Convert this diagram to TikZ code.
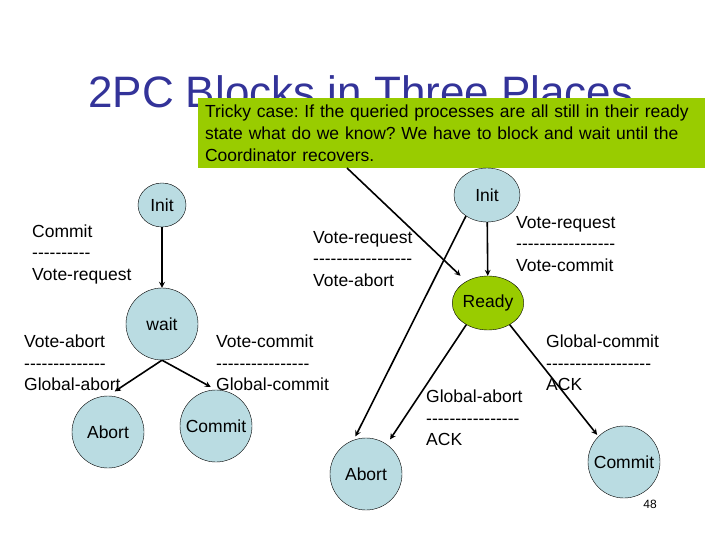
\documentclass[tikz,border=0pt]{standalone}
\usepackage{fontspec}
\setmainfont{Liberation Sans}[Ligatures=TeXOff]
\usetikzlibrary{shapes.geometric, arrows}
\definecolor{titleblue}{HTML}{333399}
\definecolor{statefill}{HTML}{BADCE2}
\definecolor{readygreen}{HTML}{99CC00}
\frenchspacing
\tikzstyle{state} = [circle, draw=black, thin, fill=statefill, minimum size=72pt, inner sep=0pt, font=\fontsize{17.5}{21}\selectfont]
\tikzstyle{oval} = [ellipse, draw=black, thin, fill=statefill, minimum width=66pt, minimum height=54pt, inner sep=0pt, font=\fontsize{17.5}{21}\selectfont]
\tikzstyle{msg} = [anchor=west, align=left, inner sep=0pt, font=\fontsize{17.5}{21.5}\selectfont]
\tikzstyle{callout} = [rectangle, fill=readygreen, minimum width=507pt, minimum height=70pt, text width=493pt, align=left, inner sep=0pt, font=\fontsize{17.5}{22}\selectfont]
\tikzstyle{arrow} = [line width=1.6pt,->,>=stealth]

\begin{document}
\begin{tikzpicture}[x=1pt,y=-1pt]
    \useasboundingbox (0,0) rectangle (720,540);
    \node [anchor=base west, inner sep=0pt, text=titleblue, font=\fontsize{44}{50}\selectfont] at (88,108) (title) {2PC Blocks in Three Places};
    \node [callout] at (451.5,133) (tricky) {Tricky case: If the queried processes are all still in their ready\\state what do we know? We have to block and wait until the\\Coordinator recovers.};
    \coordinate (tail) at (347,168);

    % coordinator
    \node [oval, minimum width=48pt, minimum height=44pt] at (162,205) (initL) {Init};
    \node [state] at (162,324) (wait) {wait};
    \node [state] at (108,432) (abortL) {Abort};
    \node [state] at (216,426) (commitL) {Commit};

    % participant
    \node [oval] at (487,195) (initR) {Init};
    \node [oval, fill=readygreen] at (488,303) (ready) {Ready};
    \node [state] at (366,474) (abortR) {Abort};
    \node [state] at (624,462) (commitR) {Commit};

    \node [msg] at (32,254) (m1) {Commit\\----------\\Vote-request};
    \node [msg] at (313,259) (m2) {Vote-request\\-----------------\\Vote-abort};
    \node [msg] at (516,244) (m3) {Vote-request\\-----------------\\Vote-commit};
    \node [msg] at (24,363) (m4) {Vote-abort\\--------------\\Global-abort};
    \node [msg] at (216,363) (m5) {Vote-commit\\----------------\\Global-commit};
    \node [msg] at (426,418) (m6) {Global-abort\\----------------\\ACK};
    \node [msg] at (546,363) (m7) {Global-commit\\------------------\\ACK};

    \node [font=\fontsize{12}{14}\selectfont] at (650,504) (page) {48};

    \draw [arrow] (initL) -- (wait);
    \draw [arrow, shorten >=8pt] (wait.south) -- (abortL.north);
    \draw [arrow, shorten >=6pt] (wait.south) -- (commitL.north);
    \draw [arrow] (initR) -- (ready);
    \draw [arrow, shorten >=4pt] (initR.225) -- (abortR.110);
    \draw [arrow, shorten >=6pt] (ready.225) -- (abortR.55);
    \draw [arrow, shorten >=2pt] (ready.315) -- (commitR.135);
    \draw [arrow, shorten >=8pt] (tail) -- (ready.135);
\end{tikzpicture}
\end{document}
